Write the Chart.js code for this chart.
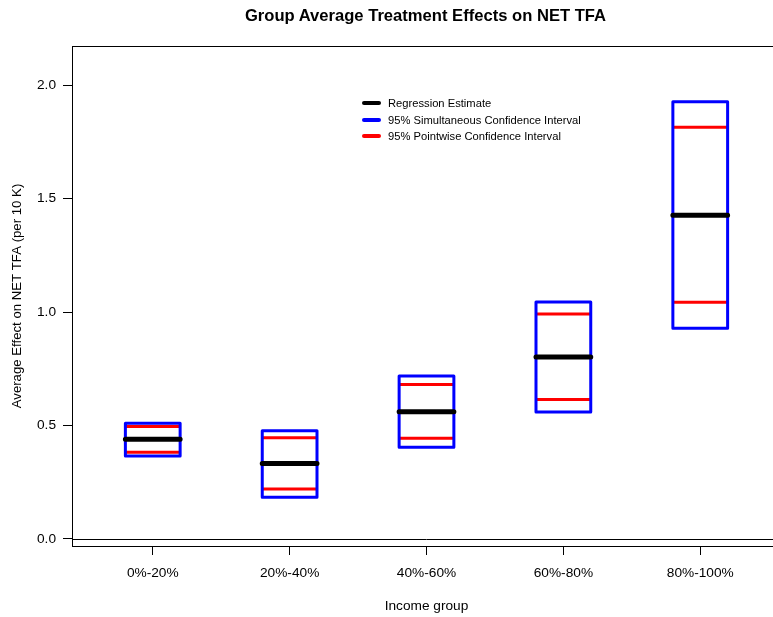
<!DOCTYPE html>
<html>
<head>
<meta charset="utf-8">
<script src="https://cdn.jsdelivr.net/npm/chart.js@4.4.1/dist/chart.umd.min.js"></script>
<style>
  html, body { margin:0; padding:0; background:#fff; overflow:hidden; width:773px; height:617px; }
  #wrap { position:relative; width:773px; height:617px; overflow:hidden; }
  canvas { position:absolute; left:0; top:0; }
  #title { position:absolute; top:5.5px; left:0; width:851px; text-align:center; line-height:19px;
           font-family:"Liberation Sans", Arial, sans-serif; font-weight:bold; font-size:16.6px; color:#000; }
  #legend { position:absolute; left:362px; top:95px; font-family:"Liberation Sans", Arial, sans-serif;
            font-size:11.2px; color:#000; line-height:16.5px; }
  #legend .row { display:flex; align-items:center; white-space:nowrap; }
  #legend .sw { display:inline-block; width:19px; height:4px; border-radius:2px; margin-right:7px; }
</style>
</head>
<body>
<div id="wrap">
  <canvas id="c" width="800" height="617"></canvas>
  <div id="title">Group Average Treatment Effects on NET TFA</div>
  <div id="legend"></div>
</div>
<script>
// ---- data ----
const categories = ['0%-20%', '20%-40%', '40%-60%', '60%-80%', '80%-100%'];
const estimate   = [0.439, 0.333, 0.561, 0.802, 1.426];
const simLower   = [0.366, 0.184, 0.404, 0.559, 0.928];
const simUpper   = [0.510, 0.477, 0.718, 1.044, 1.926];
const pwLower    = [0.382, 0.220, 0.444, 0.615, 1.043];
const pwUpper    = [0.495, 0.446, 0.681, 0.991, 1.814];
const yTicks     = [0.0, 0.5, 1.0, 1.5, 2.0];
const legendLabels = ['Regression Estimate', '95% Simultaneous Confidence Interval', '95% Pointwise Confidence Interval'];

// ---- style ----
const HW = 0.2;
const BLUE = '#0000ff', RED = '#ff0000', BLACK = '#000000';
const FONT = '"Liberation Sans", Arial, sans-serif';

// build paths from data
const boxPts = [], redPts = [], estPts = [];
categories.forEach((c, i) => {
  const x = i + 1;
  boxPts.push({x: x - HW, y: simLower[i]}, {x: x + HW, y: simLower[i]},
              {x: x + HW, y: simUpper[i]}, {x: x - HW, y: simUpper[i]},
              {x: x - HW, y: simLower[i]}, {x: x, y: null});
  redPts.push({x: x - HW, y: pwLower[i]}, {x: x + HW, y: pwLower[i]}, {x: x, y: null},
              {x: x - HW, y: pwUpper[i]}, {x: x + HW, y: pwUpper[i]}, {x: x, y: null});
  estPts.push({x: x - HW, y: estimate[i]}, {x: x + HW, y: estimate[i]}, {x: x, y: null});
});

// legend (HTML text)
const lg = document.getElementById('legend');
[BLACK, BLUE, RED].forEach((col, i) => {
  const r = document.createElement('div'); r.className = 'row';
  const s = document.createElement('span'); s.className = 'sw'; s.style.background = col;
  const t = document.createElement('span'); t.textContent = legendLabels[i];
  r.appendChild(s); r.appendChild(t); lg.appendChild(r);
});

const framePlugin = {
  id: 'frame',
  beforeDatasetsDraw(chart) {
    const {ctx, chartArea: a, scales} = chart;
    const y0 = Math.round(scales.y.getPixelForValue(0)) + 0.5;
    ctx.save();
    ctx.strokeStyle = '#000'; ctx.lineWidth = 1;
    ctx.beginPath(); ctx.moveTo(a.left, y0); ctx.lineTo(a.right, y0); ctx.stroke();
    ctx.restore();
  },
  afterDraw(chart) {
    const {ctx, chartArea: a} = chart;
    ctx.save();
    ctx.strokeStyle = '#000'; ctx.lineWidth = 1;
    ctx.strokeRect(Math.round(a.left) + 0.5, Math.round(a.top) + 0.5,
                   Math.round(a.right - a.left), Math.round(a.bottom - a.top));
    ctx.restore();
  }
};

new Chart(document.getElementById('c'), {
  type: 'scatter',
  data: {
    datasets: [
      { data: estPts, showLine: true, borderColor: BLACK, borderWidth: 5, pointRadius: 0,
        borderCapStyle: 'round', spanGaps: false, order: 0 },
      { data: boxPts, showLine: true, borderColor: BLUE, borderWidth: 3, pointRadius: 0,
        borderJoinStyle: 'round', borderCapStyle: 'round', spanGaps: false, order: 1 },
      { data: redPts, showLine: true, borderColor: RED, borderWidth: 3, pointRadius: 0,
        borderCapStyle: 'butt', spanGaps: false, order: 2 }
    ]
  },
  options: {
    responsive: false,
    animation: false,
    events: [],
    layout: { padding: { left: 0, right: 19, top: 46, bottom: 0 } },
    plugins: { legend: { display: false }, tooltip: { enabled: false }, title: { display: false } },
    scales: {
      x: {
        type: 'linear', min: 0.41, max: 5.59,
        afterFit(s) { s.height = 71; },
        afterBuildTicks(s) { s.ticks = categories.map((c, i) => ({ value: i + 1 })); },
        grid: { display: true, drawOnChartArea: false, drawTicks: true, tickLength: 9, color: '#000', tickColor: '#000' },
        border: { display: false },
        ticks: { callback: (v) => categories[v - 1] ?? '', color: '#000', padding: 10, maxRotation: 0,
                 autoSkip: false, font: { family: FONT, size: 13.7 } },
        title: { display: true, text: 'Income group', color: '#000', font: { family: FONT, size: 13.7 },
                 padding: { top: 0, bottom: 2.5 } }
      },
      y: {
        type: 'linear', min: -0.031, max: 2.172,
        afterFit(s) { s.width = 72; },
        afterBuildTicks(s) { s.ticks = yTicks.map(v => ({ value: v })); },
        grid: { display: true, drawOnChartArea: false, drawTicks: true, tickLength: 9, color: '#000', tickColor: '#000' },
        border: { display: false },
        ticks: { callback: (v) => v.toFixed(1), color: '#000', padding: 7, font: { family: FONT, size: 13.7 } },
        title: { display: true, text: 'Average Effect on NET TFA (per 10 K)', color: '#000',
                 font: { family: FONT, size: 13.2 }, padding: { top: 9.5, bottom: 0 } }
      }
    }
  },
  plugins: [framePlugin]
});
</script>
</body>
</html>
